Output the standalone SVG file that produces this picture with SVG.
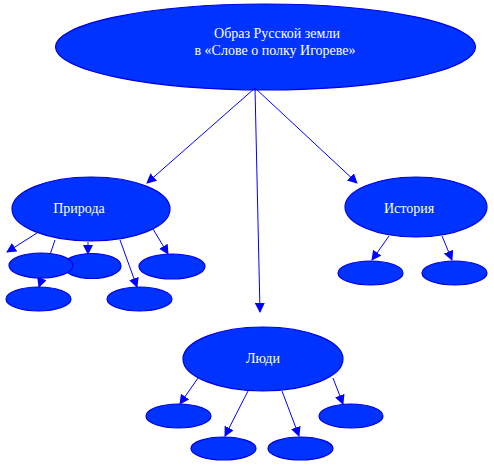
<svg xmlns="http://www.w3.org/2000/svg" width="494" height="466" viewBox="0 0 494 466">
<style>
.n{fill:#0033ff;stroke:#0000e0;stroke-width:1.2}
.t{font-family:"Liberation Serif",serif;font-size:14px;fill:#fff;text-anchor:middle}
.c line{stroke:#0000ff;stroke-width:1;marker-end:url(#a)}
</style>
<defs>
<marker id="a" markerWidth="10" markerHeight="10" refX="9" refY="5" orient="auto" markerUnits="userSpaceOnUse">
<path d="M0,0 L10,5 L0,10 z" fill="#0000ff"/>
</marker>
</defs>
<rect width="494" height="466" fill="#fff"/>
<g id="main"><ellipse class="n" cx="265.5" cy="47" rx="210" ry="43"/>
<text class="t" x="277" y="38">Образ Русской земли</text>
<text class="t" x="275" y="55">в «Слове о полку Игореве»</text></g>
<g id="priroda"><ellipse class="n" cx="91" cy="209" rx="79" ry="32"/><text class="t" x="79" y="213">Природа</text></g>
<g id="istoriya"><ellipse class="n" cx="416" cy="207" rx="71" ry="30"/><text class="t" x="409" y="213">История</text></g>
<g id="lyudi"><ellipse class="n" cx="263" cy="359" rx="80" ry="32"/><text class="t" x="263" y="363">Люди</text></g>
<g class="c" id="connectors">
<line x1="255" y1="88" x2="147" y2="183"/>
<line x1="255" y1="88" x2="260" y2="312"/>
<line x1="255" y1="88" x2="357" y2="183"/>
<line x1="37" y1="233" x2="7" y2="252"/>
<line x1="55" y1="240" x2="39" y2="287"/>
<line x1="88" y1="242" x2="88" y2="254"/>
<line x1="120" y1="240" x2="137" y2="287"/>
<line x1="153" y1="229" x2="168" y2="254"/>
<line x1="389" y1="236" x2="372" y2="260"/>
<line x1="442" y1="236" x2="452" y2="260"/>
<line x1="198" y1="378" x2="180" y2="404"/>
<line x1="248" y1="391" x2="225" y2="436"/>
<line x1="282" y1="391" x2="299" y2="436"/>
<line x1="333" y1="378" x2="343" y2="404"/>
</g>
<g id="p2"><ellipse class="n" cx="92" cy="266" rx="29" ry="12.5"/></g>
<g id="p1"><ellipse class="n" cx="41" cy="265.5" rx="32" ry="12.5"/></g>
<g id="p3"><ellipse class="n" cx="172" cy="266.5" rx="33" ry="12.5"/></g>
<g id="p4"><ellipse class="n" cx="38.5" cy="299" rx="32.5" ry="12"/></g>
<g id="p5"><ellipse class="n" cx="139.5" cy="299" rx="32.5" ry="12"/></g>
<g id="i1"><ellipse class="n" cx="370.5" cy="273" rx="32.5" ry="12"/></g>
<g id="i2"><ellipse class="n" cx="454.5" cy="273" rx="32.5" ry="12"/></g>
<g id="l1"><ellipse class="n" cx="178.5" cy="416" rx="32.5" ry="12"/></g>
<g id="l2"><ellipse class="n" cx="223.5" cy="448.5" rx="32.5" ry="11.5"/></g>
<g id="l3"><ellipse class="n" cx="300.5" cy="448.5" rx="32.5" ry="11.5"/></g>
<g id="l4"><ellipse class="n" cx="351" cy="416" rx="32" ry="12"/></g>
</svg>
